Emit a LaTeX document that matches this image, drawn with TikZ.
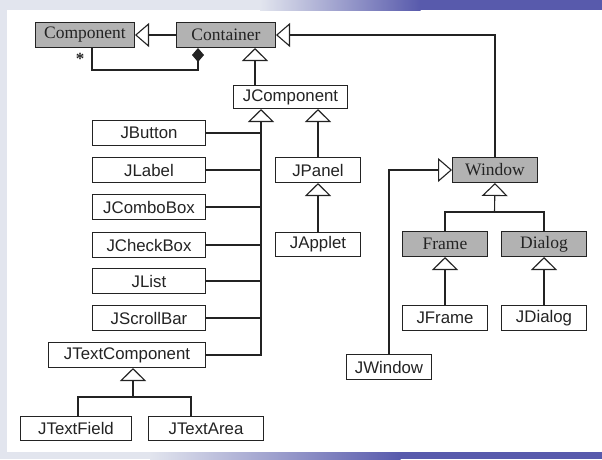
\documentclass[tikz,border=0pt]{standalone}
\usepackage{fontspec}
\setmainfont{Liberation Serif}
\setsansfont{Liberation Sans}
\usetikzlibrary{arrows.meta}
\definecolor{bgblue}{RGB}{88,90,172}
\definecolor{bglight}{RGB}{226,229,238}
\definecolor{ink}{RGB}{35,35,35}
\begin{document}
\begin{tikzpicture}[x=1pt,y=-1pt,
  clsbox/.style={draw=ink, line width=1pt, anchor=north west, inner sep=0pt, fill=white, text=ink,
    font=\sffamily\fontsize{16.8}{17}\selectfont, minimum height=25pt},
  absbox/.style={clsbox, fill=black!30, font=\rmfamily\fontsize{17.5}{17.5}\selectfont},
  link/.style={draw=ink, line width=1.1pt},
  gen/.style={link, -{Triangle[open, length=13pt, width=26pt]}},
  genside/.style={link, -{Triangle[open, length=14pt, width=24pt]}},
  composition/.style={link, -{Diamond[length=14pt, width=12pt]}}
]
\useasboundingbox (0,0) rectangle (602,459);
% background
\fill[white] (0,0) rectangle (602,459);
\fill[bglight] (0,0) rectangle (7,459);
\fill[bglight] (0,0) rectangle (260,10);
\shade[left color=bglight, right color=bgblue] (260,0) rectangle (420.5,10);
\fill[bgblue] (420,0) rectangle (602,10);
\fill[bglight] (0,452) rectangle (150,459);
\shade[left color=bglight, right color=bgblue] (150,452) rectangle (400.5,459);
\fill[bgblue] (400,452) rectangle (602,459);

% abstract (AWT) classes
\node[absbox, minimum width=99pt] (comp) at (35,22) {Component};
\node[absbox, minimum width=99pt] (cont) at (176,22) {Container};
\node[absbox, minimum width=85pt] (window) at (452,157) {Window};
\node[absbox, minimum width=85pt] (frame) at (402,231) {Frame};
\node[absbox, minimum width=85pt] (dialog) at (501,231) {Dialog};

% swing classes
\node[clsbox, minimum width=114pt, minimum height=23pt] (jcomp) at (233,85) {JComponent};
\node[clsbox, minimum width=113pt] (jbutton) at (92,120) {JButton};
\node[clsbox, minimum width=113pt] (jlabel) at (92,157) {JLabel};
\node[clsbox, minimum width=113pt] (jcombo) at (92,194) {JComboBox};
\node[clsbox, minimum width=113pt] (jcheck) at (92,232) {JCheckBox};
\node[clsbox, minimum width=113pt] (jlist) at (92,268) {JList};
\node[clsbox, minimum width=113pt] (jscroll) at (92,305) {JScrollBar};
\node[clsbox, minimum width=157pt] (jtext) at (48,342) {JTextComponent};
\node[clsbox, minimum width=111pt, minimum height=24pt] (jfield) at (20,416) {JTextField};
\node[clsbox, minimum width=115pt, minimum height=24pt] (jarea) at (148,416) {JTextArea};
\node[clsbox, minimum width=85pt] (jpanel) at (275,157) {JPanel};
\node[clsbox, minimum width=85pt, minimum height=24pt] (japplet) at (275,232) {JApplet};
\node[clsbox, minimum width=85pt] (jframe) at (402,305) {JFrame};
\node[clsbox, minimum width=85pt] (jdialog) at (501,305) {JDialog};
\node[clsbox, minimum width=85pt] (jwindow) at (346,354) {JWindow};

\node[font=\bfseries\rmfamily\fontsize{17}{17}\selectfont, text=ink] (star) at (80,59) {*};

% helper coordinates
\coordinate (cmpA) at (92,70);
\coordinate (cmpB) at (198,70);
\coordinate (contx) at (255,60);
\coordinate (trunk) at (261,354);
\coordinate (tjoin) at (133,397);
\coordinate (tleft) at (78,397);
\coordinate (tright) at (191,397);
\coordinate (wjoin) at (494.5,212);

% AWT relations
\draw[genside] (cont.west) -- (comp.east);
\draw[genside] (window.north) |- (cont.east);
\draw[composition] (comp.south -| cmpA) -- (cmpA) -- (cmpB) -- (cont.south -| cmpB);
\draw[gen] (jcomp.north -| contx) -- (cont.south -| contx);

% JComponent subclasses
\draw[gen] (jtext.east) -- (jtext.east -| trunk) -- (jcomp.south -| trunk);
\draw[link] (jbutton.east) -- (jbutton.east -| trunk);
\draw[link] (jlabel.east) -- (jlabel.east -| trunk);
\draw[link] (jcombo.east) -- (jcombo.east -| trunk);
\draw[link] (jcheck.east) -- (jcheck.east -| trunk);
\draw[link] (jlist.east) -- (jlist.east -| trunk);
\draw[link] (jscroll.east) -- (jscroll.east -| trunk);
\draw[gen] (jpanel.north) -- (jpanel.north |- jcomp.south);
\draw[gen] (japplet.north) -- (jpanel.south);

% text components
\draw[link] (jfield.north -| tleft) -- (tleft) -- (tright) -- (jarea.north -| tright);
\draw[gen] (tjoin) -- (jtext.south -| tjoin);

% window family
\draw[genside] (jwindow.north) |- (window.west);
\draw[link] (frame.north) |- (wjoin) -| (dialog.north);
\draw[gen] (wjoin) -- (window.south);
\draw[gen] (jframe.north) -- (frame.south);
\draw[gen] (jdialog.north) -- (dialog.south);
\end{tikzpicture}
\end{document}
